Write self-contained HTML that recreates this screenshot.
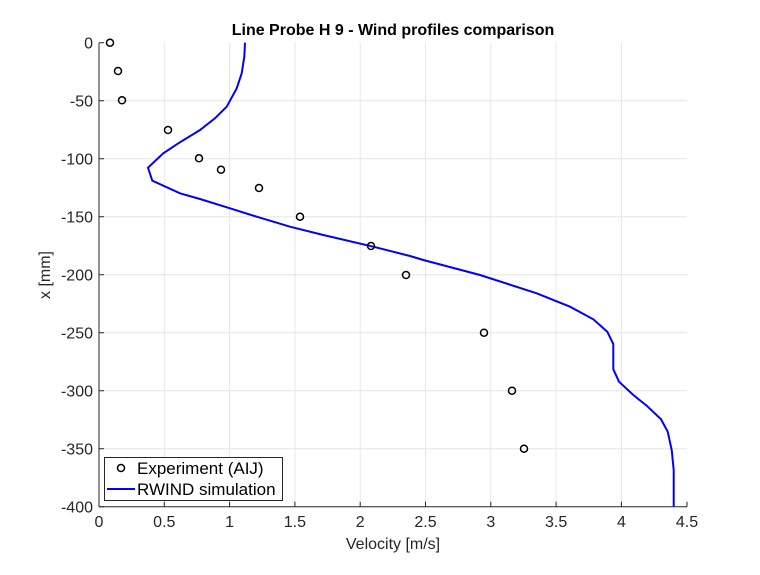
<!DOCTYPE html>
<html><head><meta charset="utf-8"><style>body{margin:0;background:#fff}</style></head><body>
<svg width="760" height="570" xmlns="http://www.w3.org/2000/svg" font-family="Liberation Sans, sans-serif">
<rect width="760" height="570" fill="#fff"/>
<g stroke="#e6e6e6" stroke-width="1">
<line x1="164.3" y1="42.7" x2="164.3" y2="506.7"/><line x1="229.6" y1="42.7" x2="229.6" y2="506.7"/><line x1="294.9" y1="42.7" x2="294.9" y2="506.7"/><line x1="360.2" y1="42.7" x2="360.2" y2="506.7"/><line x1="425.5" y1="42.7" x2="425.5" y2="506.7"/><line x1="490.8" y1="42.7" x2="490.8" y2="506.7"/><line x1="556.1" y1="42.7" x2="556.1" y2="506.7"/><line x1="621.4" y1="42.7" x2="621.4" y2="506.7"/>
<line x1="99" y1="100.7" x2="687" y2="100.7"/><line x1="99" y1="158.7" x2="687" y2="158.7"/><line x1="99" y1="216.7" x2="687" y2="216.7"/><line x1="99" y1="274.7" x2="687" y2="274.7"/><line x1="99" y1="332.7" x2="687" y2="332.7"/><line x1="99" y1="390.7" x2="687" y2="390.7"/><line x1="99" y1="448.7" x2="687" y2="448.7"/>
</g>
<g stroke="#262626" stroke-width="1" fill="none">
<line x1="99" y1="42.7" x2="99" y2="506.7"/><line x1="99" y1="506.7" x2="687" y2="506.7"/>
<path d="M99 42.7h5M99 100.7h5M99 158.7h5M99 216.7h5M99 274.7h5M99 332.7h5M99 390.7h5M99 448.7h5M99 506.7h5"/>
<path d="M99 506.7v-5M164.3 506.7v-5M229.6 506.7v-5M294.9 506.7v-5M360.2 506.7v-5M425.5 506.7v-5M490.8 506.7v-5M556.1 506.7v-5M621.4 506.7v-5M687 506.7v-5"/>
</g>
<g font-size="16" fill="#262626" text-anchor="end">
<text x="93" y="48.5">0</text><text x="93" y="106.5">-50</text><text x="93" y="164.5">-100</text><text x="93" y="222.5">-150</text><text x="93" y="280.5">-200</text><text x="93" y="338.5">-250</text><text x="93" y="396.5">-300</text><text x="93" y="454.5">-350</text><text x="93" y="512.5">-400</text>
</g>
<g font-size="16" fill="#262626" text-anchor="middle">
<text x="99" y="527">0</text><text x="164.3" y="527">0.5</text><text x="229.6" y="527">1</text><text x="294.9" y="527">1.5</text><text x="360.2" y="527">2</text><text x="425.5" y="527">2.5</text><text x="490.8" y="527">3</text><text x="556.1" y="527">3.5</text><text x="621.4" y="527">4</text><text x="687" y="527">4.5</text>
<text x="393" y="549" font-size="16">Velocity [m/s]</text>
<text x="393" y="35" font-size="16" font-weight="bold" fill="#000">Line Probe H 9 - Wind profiles comparison</text>
<text transform="translate(50,275) rotate(-90)" font-size="16">x [mm]</text>
</g>
<polyline fill="none" stroke="#0000ff" stroke-width="2" points="245,42.7 244.3,56.7 241.7,73.3 236.7,88.3 226.7,106.7 215,118.3 200,130 178.3,143.3 163.3,153.3 148,167.7 152.3,180.7 180,193.3 200,199 230,208.3 256.7,216.7 290,226.7 323.3,235 373.3,246.7 410,256 423.3,260 480,275 536.7,293.3 570,306.7 593.3,319.3 607.3,331.7 613.3,344 613.3,369.3 619,381.7 633.3,395 646.7,405.7 661,419.3 667.7,431.7 671.7,450 673.7,470 673.7,506.7"/>
<g fill="none" stroke="#000" stroke-width="1.5">
<circle cx="110" cy="42.7" r="3.5"/><circle cx="118" cy="71" r="3.5"/><circle cx="122" cy="100.3" r="3.5"/><circle cx="168" cy="130" r="3.5"/><circle cx="199" cy="158.3" r="3.5"/><circle cx="221" cy="169.7" r="3.5"/><circle cx="259" cy="188" r="3.5"/><circle cx="300" cy="216.7" r="3.5"/><circle cx="371" cy="246" r="3.5"/><circle cx="406" cy="275" r="3.5"/><circle cx="484" cy="332.7" r="3.5"/><circle cx="512" cy="390.7" r="3.5"/><circle cx="524" cy="448.7" r="3.5"/>
</g>
<rect x="104.5" y="457.5" width="178" height="43" fill="#fff" stroke="#262626" stroke-width="1"/>
<circle cx="121" cy="468" r="3.5" fill="none" stroke="#000" stroke-width="1.5"/>
<line x1="107" y1="489" x2="135" y2="489" stroke="#0000ff" stroke-width="2"/>
<text x="137" y="474" font-size="17" fill="#000">Experiment (AIJ)</text>
<text x="137" y="495" font-size="17" fill="#000">RWIND simulation</text>
</svg>
</body></html>
